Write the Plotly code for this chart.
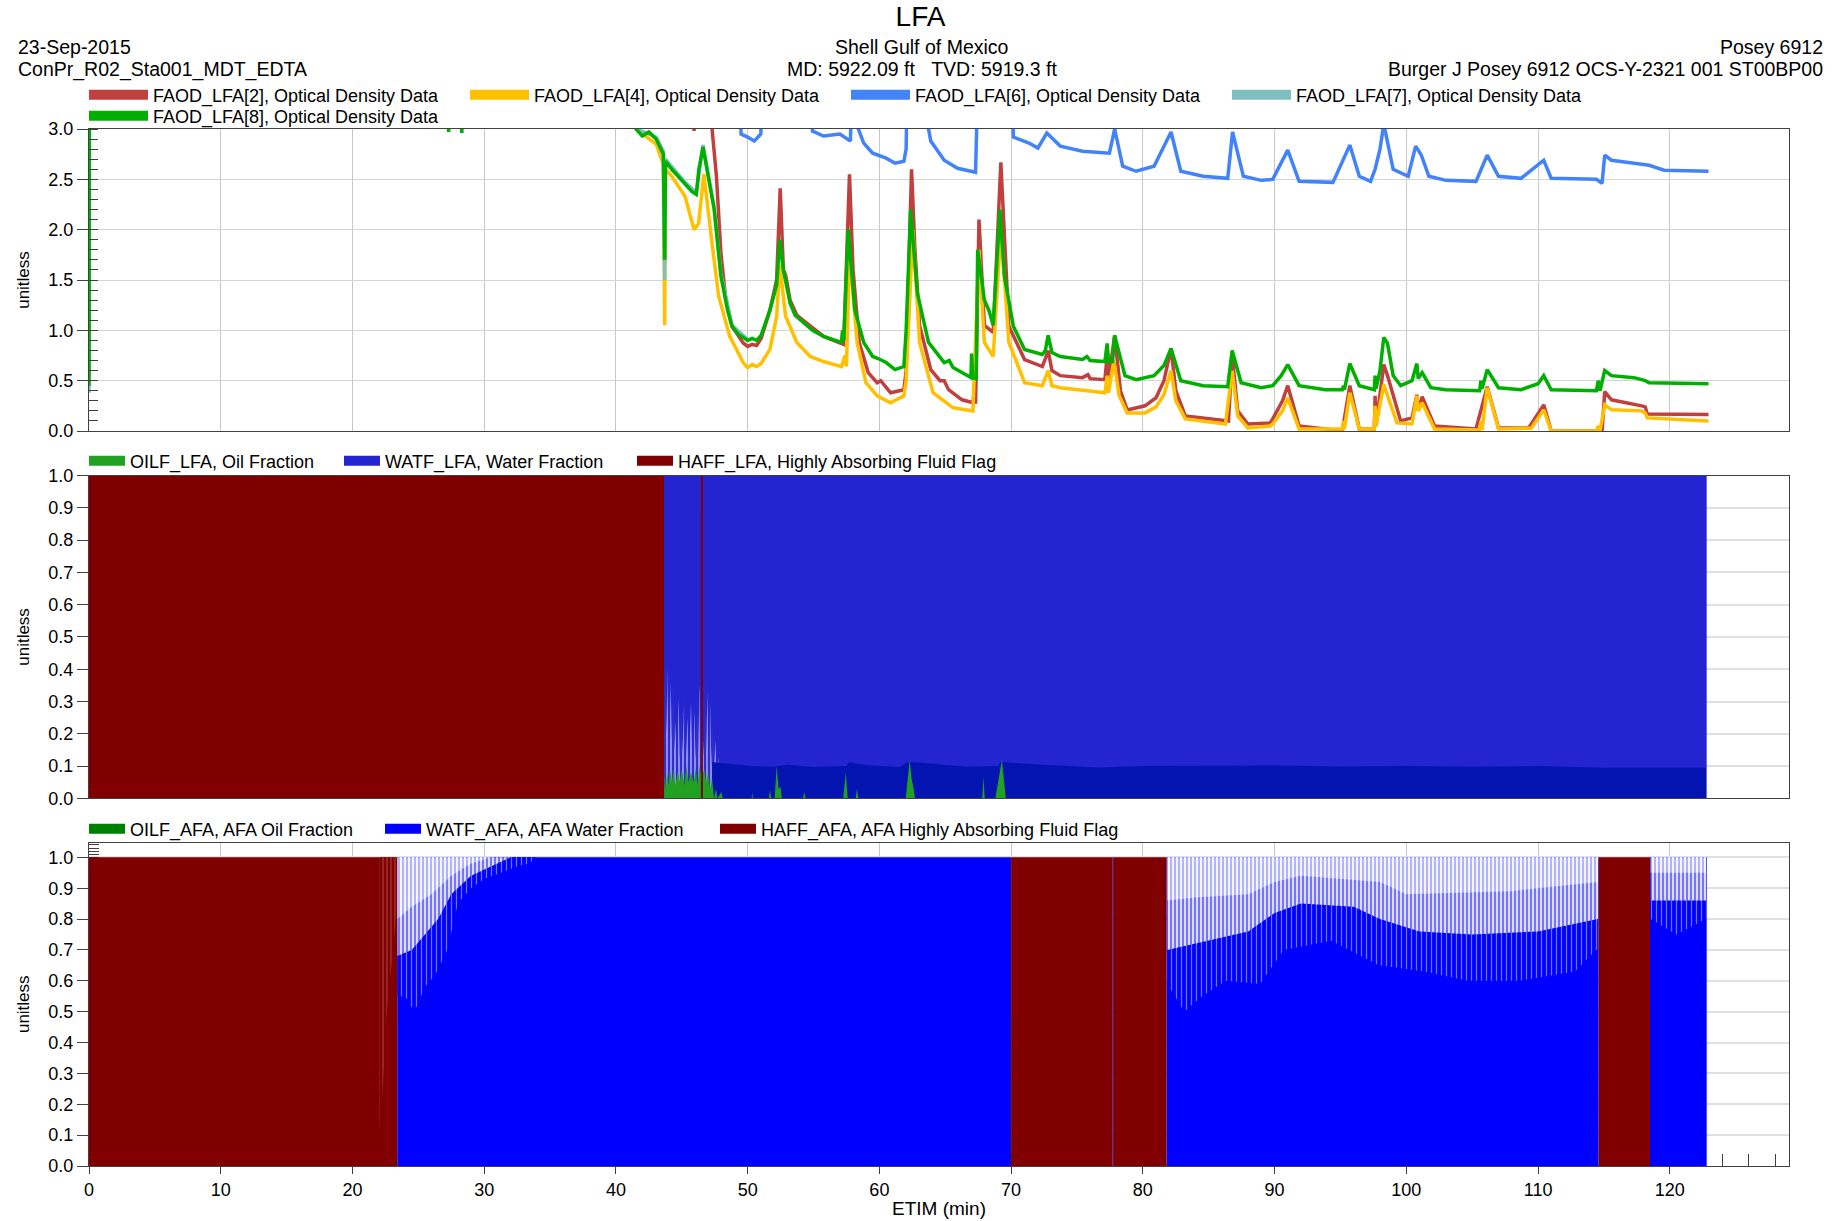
import plotly.graph_objects as go

# ---------------------------------------------------------------- data
# ETIM (min) vs optical density. 3.4 = off scale (> 3.0)
faod8 = [(0.0, 0.45), (0.03, 3.4), (27.2, 3.4), (27.3, 2.97), (27.4, 3.4), (28.2, 3.4), (28.3, 2.96),
         (28.4, 3.4), (41.3, 3.4), (41.53, 3.0), (42.0, 2.93), (42.5, 2.97), (43.05, 2.9), (43.6, 2.75),
         (43.7, 1.7), (43.76, 2.68), (44.24, 2.6), (44.58, 2.55), (45.25, 2.45), (45.76, 2.38), (46.1, 2.35),
         (46.3, 2.6), (46.61, 2.82), (46.9, 2.6), (47.46, 2.2), (47.97, 1.54), (48.47, 1.2), (48.81, 1.04),
         (49.3, 0.96), (49.66, 0.93), (50.0, 0.9), (50.34, 0.92), (50.68, 0.9), (51.02, 0.95), (51.69, 1.2),
         (52.2, 1.45), (52.44, 1.9), (52.71, 1.6), (53.22, 1.27), (53.6, 1.15), (54.07, 1.1), (54.92, 1.0),
         (55.76, 0.94), (57.12, 0.88), (57.2, 1.0), (57.3, 0.9), (57.63, 2.0), (58.14, 1.2), (58.81, 0.88),
         (59.49, 0.74), (59.9, 0.72), (60.51, 0.68), (61.19, 0.61), (61.86, 0.64), (62.03, 1.0), (62.37, 2.2),
         (62.88, 1.37), (63.73, 0.88), (64.92, 0.68), (65.3, 0.7), (65.59, 0.63), (66.61, 0.55), (66.95, 0.53),
         (67.0, 0.77), (67.08, 0.53), (67.35, 0.52), (67.46, 1.8), (67.97, 1.3), (68.31, 1.2), (68.64, 1.05),
         (69.15, 2.2), (69.49, 1.54), (70.17, 1.04), (71.02, 0.81), (72.37, 0.76), (72.6, 0.8), (72.81, 0.95),
         (73.1, 0.78), (73.73, 0.74), (75.42, 0.71), (75.76, 0.74), (76.0, 0.7), (77.12, 0.69), (77.29, 0.87),
         (77.4, 0.69), (77.7, 0.69), (77.86, 0.95), (78.64, 0.55), (79.49, 0.51), (80.85, 0.55), (81.6, 0.65),
         (82.14, 0.82), (82.88, 0.5), (84.58, 0.45), (86.44, 0.44), (86.78, 0.8), (87.46, 0.48), (88.98, 0.43),
         (89.86, 0.45), (90.5, 0.55), (91.0, 0.66), (91.86, 0.45), (93.86, 0.41), (95.14, 0.41), (95.23, 0.45),
         (95.3, 0.41), (95.71, 0.67), (96.43, 0.45), (97.57, 0.41), (97.63, 0.55), (97.7, 0.42), (98.0, 0.6),
         (98.29, 0.93), (98.57, 0.87), (99.0, 0.55), (99.57, 0.45), (100.43, 0.5), (100.8, 0.67), (100.9, 0.52),
         (101.2, 0.58), (101.86, 0.43), (103.0, 0.41), (105.57, 0.4), (105.66, 0.5), (105.75, 0.42),
         (106.14, 0.61), (107.0, 0.43), (108.71, 0.41), (110.0, 0.47), (110.43, 0.55), (111.0, 0.41),
         (114.43, 0.4), (114.57, 0.5), (114.7, 0.4), (115.06, 0.6), (115.57, 0.55), (117.29, 0.53),
         (118.14, 0.5), (118.43, 0.48), (122.94, 0.47)]

faod7 = [(0.0, 0.38), (0.03, 3.4), (41.3, 3.4), (41.6, 3.0), (43.05, 2.92), (43.6, 2.78), (43.7, 1.5),
         (43.76, 2.7), (45.25, 2.47), (46.1, 2.37), (46.61, 2.84), (47.46, 2.22), (47.97, 1.56),
         (48.81, 1.05), (50.0, 0.91)]

faod2 = [(0.0, 3.4), (45.8, 3.4), (45.93, 2.98), (46.0, 3.4), (47.12, 3.4), (47.3, 3.0), (47.63, 2.53),
         (47.97, 1.77), (48.31, 1.34), (48.81, 1.04), (49.66, 0.875), (50.0, 0.84), (50.34, 0.86),
         (50.68, 0.85), (51.02, 0.92), (51.69, 1.2), (52.2, 1.5), (52.47, 2.41), (52.71, 1.6), (52.88, 1.55),
         (53.22, 1.3), (53.73, 1.15), (54.41, 1.08), (55.76, 0.94), (57.29, 0.86), (57.73, 2.55), (58.0, 1.6),
         (58.47, 0.88), (59.15, 0.58), (59.83, 0.48), (60.1, 0.5), (60.85, 0.38), (61.86, 0.41), (62.03, 0.6),
         (62.44, 2.6), (62.7, 1.8), (63.05, 1.05), (63.9, 0.61), (64.6, 0.5), (64.92, 0.5), (65.25, 0.41),
         (66.27, 0.31), (67.12, 0.28), (67.2, 0.45), (67.3, 0.27), (67.56, 2.1), (67.97, 1.05), (68.64, 0.98),
         (69.22, 2.67), (69.83, 1.04), (71.02, 0.71), (72.37, 0.64), (72.6, 0.72), (72.81, 0.8), (73.1, 0.6),
         (73.73, 0.55), (75.42, 0.53), (75.83, 0.56), (76.0, 0.52), (77.12, 0.51), (77.29, 0.75), (77.4, 0.51),
         (77.86, 0.95), (78.3, 0.4), (78.81, 0.21), (80.17, 0.25), (81.0, 0.33), (81.6, 0.5), (82.14, 0.82),
         (82.5, 0.4), (83.22, 0.15), (86.27, 0.1), (86.5, 0.1), (86.78, 0.75), (87.2, 0.2), (87.97, 0.07),
         (89.66, 0.08), (89.86, 0.12), (90.6, 0.3), (91.0, 0.45), (91.86, 0.05), (95.14, 0.0), (95.71, 0.45),
         (96.43, 0.02), (97.57, 0.02), (97.63, 0.35), (97.7, 0.05), (98.29, 0.66), (98.57, 0.55), (99.57, 0.1),
         (100.43, 0.13), (100.8, 0.36), (100.9, 0.2), (101.2, 0.34), (102.14, 0.05), (105.29, 0.02),
         (106.14, 0.44), (107.0, 0.03), (109.29, 0.03), (110.43, 0.26), (111.0, 0.0), (114.86, 0.0),
         (115.06, 0.39), (115.57, 0.31), (116.71, 0.28), (117.0, 0.28), (117.86, 0.25), (118.14, 0.24),
         (118.29, 0.17), (122.94, 0.165)]

faod4 = [(0.0, 3.4), (41.3, 3.4), (41.53, 3.0), (42.5, 2.9), (43.05, 2.85), (43.6, 2.65), (43.7, 1.05),
         (43.76, 2.6), (44.24, 2.53), (45.25, 2.33), (45.76, 2.1), (45.93, 2.0), (46.27, 2.06), (46.68, 2.55),
         (47.29, 1.87), (47.8, 1.34), (48.64, 0.94), (49.66, 0.68), (50.0, 0.63), (50.34, 0.66), (50.68, 0.64),
         (51.02, 0.67), (51.69, 0.81), (52.2, 1.14), (52.44, 1.65), (52.88, 1.14), (53.73, 0.88), (54.75, 0.74),
         (55.76, 0.69), (57.12, 0.64), (57.39, 0.75), (57.5, 0.64), (57.73, 1.77), (58.31, 0.88), (58.98, 0.48),
         (59.83, 0.35), (60.85, 0.28), (61.86, 0.35), (62.03, 0.5), (62.54, 2.0), (63.05, 0.88), (64.07, 0.38),
         (65.59, 0.23), (66.95, 0.2), (67.1, 0.2), (67.56, 1.8), (67.97, 0.88), (68.64, 0.74), (69.22, 2.0),
         (69.83, 0.88), (71.02, 0.48), (72.37, 0.45), (72.81, 0.6), (73.1, 0.45), (73.73, 0.43), (75.76, 0.4),
         (77.12, 0.38), (77.3, 0.55), (77.4, 0.38), (77.8, 0.7), (78.2, 0.35), (78.81, 0.18), (80.17, 0.18),
         (81.0, 0.24), (81.6, 0.36), (82.14, 0.6), (82.5, 0.3), (83.22, 0.12), (86.27, 0.07), (86.78, 0.6),
         (87.2, 0.15), (87.97, 0.03), (89.66, 0.05), (89.86, 0.07), (90.6, 0.2), (91.0, 0.33), (91.86, 0.02),
         (95.14, 0.02), (95.23, 0.1), (95.3, 0.02), (95.71, 0.38), (96.43, 0.02), (97.57, 0.02), (97.63, 0.25),
         (97.7, 0.05), (98.29, 0.46), (99.29, 0.08), (100.43, 0.07), (100.8, 0.35), (100.9, 0.2), (101.2, 0.28),
         (102.14, 0.02), (105.57, 0.01), (105.66, 0.1), (105.75, 0.01), (106.14, 0.43), (107.0, 0.02),
         (109.5, 0.03), (110.43, 0.21), (111.0, 0.0), (114.43, 0.0), (114.57, 0.05), (114.7, 0.0),
         (115.06, 0.26), (115.57, 0.21), (117.86, 0.2), (118.14, 0.18), (118.29, 0.13), (122.94, 0.1)]

faod6 = [(0.0, 3.4), (49.4, 3.4), (49.5, 2.95), (50.0, 2.92), (50.5, 2.88), (51.0, 2.95), (51.1, 3.4),
         (54.8, 3.4), (54.92, 2.98), (55.76, 2.93), (57.0, 2.95), (57.8, 2.88), (57.9, 3.4), (58.3, 3.4),
         (58.4, 3.0), (58.81, 2.86), (59.49, 2.76), (60.51, 2.71), (61.19, 2.66), (61.86, 2.68), (62.03, 2.8),
         (62.1, 3.4), (63.6, 3.4), (63.73, 3.0), (63.9, 2.88), (64.92, 2.69), (65.93, 2.61), (66.95, 2.58),
         (67.3, 2.57), (67.46, 3.4), (70.1, 3.4), (70.17, 2.92), (71.36, 2.86), (72.03, 2.81), (72.71, 2.96),
         (73.73, 2.83), (75.42, 2.78), (77.46, 2.76), (77.86, 3.0), (78.47, 2.63), (79.49, 2.58), (80.85, 2.63),
         (82.14, 2.97), (82.88, 2.58), (84.58, 2.53), (86.44, 2.51), (86.81, 2.97), (87.63, 2.53), (88.98, 2.49),
         (89.86, 2.5), (91.0, 2.79), (91.86, 2.48), (94.43, 2.47), (95.71, 2.84), (96.43, 2.53), (97.29, 2.48),
         (97.63, 2.6), (98.0, 2.8), (98.29, 3.05), (99.0, 2.6), (100.14, 2.53), (100.71, 2.83), (101.14, 2.74),
         (101.71, 2.53), (103.0, 2.49), (105.29, 2.48), (106.14, 2.74), (107.0, 2.53), (108.71, 2.51),
         (110.43, 2.69), (111.0, 2.51), (114.43, 2.5), (114.86, 2.46), (115.06, 2.74), (115.57, 2.69),
         (117.29, 2.66), (118.43, 2.64), (119.57, 2.59), (122.94, 2.58)]

# LFA fractions
lfa_haff_x = [0.0, 43.65, 46.45, 46.6, 122.8]
lfa_haff_y = [1, 0, 1, 0, 0]
lfa_watf_x = [43.65, 122.8]
lfa_watf_y = [1.0, 1.0]
lfa_oilf = [(43.65, 0.0), (43.7, 0.07), (43.8, 0.03), (43.9, 0.08), (44.0, 0.04), (44.1, 0.09), (44.25, 0.05),
            (44.4, 0.09), (44.5, 0.04), (44.7, 0.08), (44.85, 0.05), (45.0, 0.09), (45.2, 0.04), (45.35, 0.1),
            (45.5, 0.05), (45.7, 0.08), (45.9, 0.05), (46.05, 0.09), (46.2, 0.04), (46.35, 0.1), (46.5, 0.06),
            (46.7, 0.09), (46.85, 0.05), (47.0, 0.08), (47.15, 0.03), (47.3, 0.06), (47.45, 0.0), (47.6, 0.03),
            (47.7, 0.0), (48.0, 0.02), (48.1, 0.0), (50.3, 0.0), (50.35, 0.02), (50.4, 0.0), (51.6, 0.0),
            (51.7, 0.025), (51.8, 0.0), (52.05, 0.0), (52.2, 0.1), (52.35, 0.03), (52.5, 0.035), (52.6, 0.0),
            (54.2, 0.0), (54.3, 0.02), (54.4, 0.0), (57.25, 0.0), (57.45, 0.08), (57.6, 0.0), (58.2, 0.0),
            (58.3, 0.03), (58.4, 0.0), (62.0, 0.0), (62.3, 0.12), (62.45, 0.06), (62.6, 0.03), (62.7, 0.0),
            (67.8, 0.0), (67.9, 0.067), (68.0, 0.0), (68.8, 0.0), (69.3, 0.12), (69.5, 0.05), (69.6, 0.0),
            (122.8, 0.0)]
# low-level water band (darker blue)
lfa_band = [(47.3, 0.113), (48.5, 0.108), (50.2, 0.1), (52.0, 0.098), (53.0, 0.104), (55.0, 0.097),
            (57.5, 0.1), (57.7, 0.112), (59.0, 0.103), (61.5, 0.097), (62.2, 0.113), (63.5, 0.11),
            (66.6, 0.098), (69.0, 0.1), (69.2, 0.113), (72.0, 0.105), (76.7, 0.096), (80.0, 0.1),
            (85.0, 0.1), (90.0, 0.102), (95.0, 0.099), (100.0, 0.1), (105.0, 0.098), (110.0, 0.1),
            (115.0, 0.095), (120.0, 0.096), (122.75, 0.095)]
# unflagged (white) streaks in the LFA fractions
lfa_gap = [(43.65, 0.1), (43.75, 0.45), (43.85, 0.2), (43.95, 0.41), (44.05, 0.15), (44.15, 0.36),
           (44.25, 0.18), (44.35, 0.37), (44.45, 0.15), (44.55, 0.24), (44.65, 0.15), (44.75, 0.31),
           (44.85, 0.12), (44.95, 0.28), (45.05, 0.14), (45.2, 0.33), (45.3, 0.12), (45.45, 0.25),
           (45.55, 0.12), (45.7, 0.3), (45.8, 0.13), (45.95, 0.27), (46.05, 0.12), (46.2, 0.33), (46.3, 0.14),
           (46.35, 0.35), (46.7, 0.12), (46.75, 0.39), (46.85, 0.15), (46.95, 0.33), (47.05, 0.12),
           (47.15, 0.3), (47.25, 0.1), (47.35, 0.24), (47.45, 0.1), (47.55, 0.18), (47.65, 0.09),
           (47.75, 0.13), (47.9, 0.05)]

# AFA fractions
afa_haff_x = [0.0, 23.4, 70.0, 77.68, 77.74, 81.8, 114.6, 118.5, 122.8]
afa_haff_y = [1, 0, 1, 0, 1, 0, 1, 0, 0]
afa_watf_x = [0.0, 23.4, 70.0, 77.68, 77.74, 81.8, 114.6, 118.5, 122.8]
afa_watf_y = [0, 1, 0, 1, 0, 1, 0, 1, 0]
afa_oilf_x = [0.0, 122.8]
afa_oilf_y = [0.0, 0.0]
# water-fraction dips: deepest streaks, mid-depth streaks and dense streak zone, per segment
afa_dip_deep = [
    [(23.4, 0.55), (24.0, 0.55), (24.7, 0.5), (25.5, 0.58), (26.3, 0.62), (27.2, 0.7), (28.0, 0.85),
     (29.0, 0.9), (30.0, 0.93), (31.2, 0.95), (32.5, 0.97), (33.4, 0.98), (34.0, 1.0)],
    [(81.85, 0.6), (82.0, 0.58), (83.15, 0.5), (84.5, 0.55), (86.3, 0.6), (88.9, 0.59), (90.7, 0.7),
     (94.3, 0.73), (97.9, 0.65), (101.4, 0.63), (104.6, 0.6), (108.6, 0.6), (112.8, 0.63), (114.4, 0.7),
     (114.55, 0.7)],
    [(118.55, 0.8), (120.5, 0.75), (122.75, 0.8)],
]
afa_dip_mid = [
    [(23.4, 0.68), (24.5, 0.7), (25.5, 0.75), (26.5, 0.8), (27.5, 0.88), (29.0, 0.94), (31.0, 0.98),
     (32.0, 1.0)],
    [(81.85, 0.7), (84.0, 0.72), (86.0, 0.74), (88.0, 0.76), (90.0, 0.82), (92.0, 0.85), (96.0, 0.84),
     (98.0, 0.8), (101.0, 0.76), (105.0, 0.75), (110.0, 0.76), (114.55, 0.8)],
    [(118.55, 0.86), (122.75, 0.86)],
]
afa_dip_dense = [
    [(23.4, 0.8), (24.5, 0.84), (26.0, 0.88), (27.5, 0.94), (29.0, 0.98), (30.5, 1.0)],
    [(81.85, 0.86), (84.0, 0.87), (88.0, 0.88), (90.0, 0.92), (92.0, 0.94), (98.0, 0.92), (100.0, 0.88),
     (108.0, 0.89), (110.0, 0.9), (114.55, 0.92)],
    [(118.55, 0.95), (122.75, 0.95)],
]
afa_haff_flicker = [(22.05, 0.12), (22.3, 0.25), (22.6, 0.5), (22.9, 0.62), (23.2, 0.75), (23.38, 0.87)]

# ---------------------------------------------------------------- figure
FONT = "Liberation Sans, Arial, sans-serif"
fig = go.Figure()


def xy(pairs):
    return [p[0] for p in pairs], [p[1] for p in pairs]


def band_to_top(segments, top=1.0):
    xs, ys = [], []
    for seg in segments:
        sx, sy = xy(seg)
        xs += sx + sx[::-1] + [None]
        ys += sy + [top] * len(sx) + [None]
    return xs, ys


# --- panel 1 lines
od_traces = [
    ("FAOD_LFA[2], Optical Density Data", faod2, "#C0403F"),
    ("FAOD_LFA[4], Optical Density Data", faod4, "#FFC000"),
    ("FAOD_LFA[6], Optical Density Data", faod6, "#4282FA"),
    ("FAOD_LFA[7], Optical Density Data", faod7, "#7FBFC0"),
    ("FAOD_LFA[8], Optical Density Data", faod8, "#00B000"),
]
for name, pairs, col in od_traces:
    x, y = xy(pairs)
    fig.add_trace(go.Scatter(x=x, y=y, mode="lines", line=dict(color=col, width=3.5),
                             name=name, legendgroup=name, showlegend=False,
                             xaxis="x", yaxis="y"))

# --- panel 2 fills
fig.add_trace(go.Scatter(x=lfa_watf_x, y=lfa_watf_y, mode="lines", line=dict(width=0, shape="hv"),
                         fill="tozeroy", fillcolor="#2424D0", legendgroup="WATF_LFA",
                         showlegend=False, xaxis="x2", yaxis="y2"))
gx, gy = xy(lfa_gap)
fig.add_trace(go.Scatter(x=gx, y=gy, mode="lines", line=dict(width=0), fill="tozeroy",
                         fillcolor="rgba(0,0,0,0)",
                         fillpattern=dict(shape="|", fgcolor="#F4F4FF", bgcolor="#2424D0",
                                          size=4, solidity=0.55),
                         legendgroup="WATF_LFA", showlegend=False, xaxis="x2", yaxis="y2"))
bx, by = xy(lfa_band)
fig.add_trace(go.Scatter(x=bx, y=by, mode="lines", line=dict(width=0), fill="tozeroy",
                         fillcolor="#0414B0", legendgroup="WATF_LFA", showlegend=False,
                         xaxis="x2", yaxis="y2"))
ox, oy = xy(lfa_oilf)
fig.add_trace(go.Scatter(x=ox, y=oy, mode="lines", line=dict(width=0), fill="tozeroy",
                         fillcolor="#22A022", legendgroup="OILF_LFA", showlegend=False,
                         xaxis="x2", yaxis="y2"))
fig.add_trace(go.Scatter(x=lfa_haff_x, y=lfa_haff_y, mode="lines", line=dict(width=0, shape="hv"),
                         fill="tozeroy", fillcolor="#800000", legendgroup="HAFF_LFA",
                         showlegend=False, xaxis="x2", yaxis="y2"))

# --- panel 3 fills
fig.add_trace(go.Scatter(x=afa_watf_x, y=afa_watf_y, mode="lines", line=dict(width=0, shape="hv"),
                         fill="tozeroy", fillcolor="#0000FF", legendgroup="WATF_AFA",
                         showlegend=False, xaxis="x3", yaxis="y3"))
for segs, fg, bg, size, sol in [(afa_dip_deep, "#E4E4FF", "#0000FF", 5, 0.25),
                                (afa_dip_mid, "#0000FF", "#E8E8FF", 4, 0.55),
                                (afa_dip_dense, "#1010FF", "#F6F6FF", 4, 0.3)]:
    dx, dy = band_to_top(segs)
    fig.add_trace(go.Scatter(x=dx, y=dy, mode="lines", line=dict(width=0), fill="toself",
                             fillcolor="rgba(0,0,0,0)",
                             fillpattern=dict(shape="|", fgcolor=fg, bgcolor=bg, size=size, solidity=sol),
                             legendgroup="WATF_AFA", showlegend=False, xaxis="x3", yaxis="y3"))
fig.add_trace(go.Scatter(x=afa_oilf_x, y=afa_oilf_y, mode="lines", line=dict(width=0),
                         fill="tozeroy", fillcolor="#008000", legendgroup="OILF_AFA",
                         showlegend=False, xaxis="x3", yaxis="y3"))
fig.add_trace(go.Scatter(x=afa_haff_x, y=afa_haff_y, mode="lines", line=dict(width=0, shape="hv"),
                         fill="tozeroy", fillcolor="#800000", legendgroup="HAFF_AFA",
                         showlegend=False, xaxis="x3", yaxis="y3"))
fx, fy = band_to_top([afa_haff_flicker])
fig.add_trace(go.Scatter(x=fx, y=fy, mode="lines", line=dict(width=0), fill="toself",
                         fillcolor="rgba(0,0,0,0)",
                         fillpattern=dict(shape="|", fgcolor="#C88080", bgcolor="#800000",
                                          size=4, solidity=0.3),
                         legendgroup="HAFF_AFA", showlegend=False, xaxis="x3", yaxis="y3"))

# --- legend entries (rectangular swatches)
od_leg = [(n, c, n, None) for n, _, c in od_traces]
legend_items = [
    ("legend", "x", "y", od_leg[:4]),
    ("legend4", "x", "y", od_leg[4:]),
    ("legend2", "x2", "y2", [("OILF_LFA, Oil Fraction", "#22A022", "OILF_LFA", 209),
                             ("WATF_LFA, Water Fraction", "#2424D0", "WATF_LFA", 247),
                             ("HAFF_LFA, Highly Absorbing Fluid Flag", "#800000", "HAFF_LFA", 330)]),
    ("legend3", "x3", "y3", [("OILF_AFA, AFA Oil Fraction", "#008000", "OILF_AFA", 250),
                             ("WATF_AFA, AFA Water Fraction", "#0000FF", "WATF_AFA", 289),
                             ("HAFF_AFA, AFA Highly Absorbing Fluid Flag", "#800000", "HAFF_AFA", 380)]),
]
for leg, xa, ya, items in legend_items:
    for name, col, grp, lw in items:
        kw = dict(legendwidth=lw) if lw else {}
        fig.add_trace(go.Scatter(x=[None], y=[None], mode="lines", line=dict(color=col, width=12),
                                 name=name, legendgroup=grp, legend=leg, xaxis=xa, yaxis=ya, **kw))

# ---------------------------------------------------------------- layout
W, H = 1841, 1221
ML, MR, MT, MB = 89, 52, 129, 55
PH = H - MT - MB


def py(pix):
    return (H - MB - pix) / PH


def px(pix):
    return (pix - ML) / (W - ML - MR)


tickfont = dict(family=FONT, size=18, color="#000000")
common_x = dict(range=[0, 129.05], dtick=10, tick0=0, showgrid=True, gridcolor="#C8C8C8",
                gridwidth=1, showline=True, linecolor="#404040", linewidth=1, mirror=True,
                zeroline=False, tickfont=tickfont, automargin=False)
ytitle = dict(text="unitless", font=dict(family=FONT, size=17, color="#000000"), standoff=14)
legfont = dict(family=FONT, size=18, color="#000000")
legcommon = dict(orientation="h", x=0, xanchor="left", yanchor="middle", indentation=-5,
                 bgcolor="rgba(0,0,0,0)", font=legfont, itemclick=False, itemdoubleclick=False)

fig.update_layout(
    width=W, height=H,
    margin=dict(l=ML, r=MR, t=MT, b=MB, pad=0, autoexpand=False),
    paper_bgcolor="white", plot_bgcolor="white",
    font=dict(family=FONT, size=18, color="#000000"),
    hovermode=False,
    title=dict(text="LFA", x=0.5, xanchor="center", y=1 - 16.5 / H, yanchor="middle",
               font=dict(family=FONT, size=28, color="#000000")),
    xaxis=dict(**common_x, anchor="y", matches="x3", showticklabels=False, ticks=""),
    xaxis2=dict(**common_x, anchor="y2", matches="x3", showticklabels=False, ticks=""),
    xaxis3=dict(**common_x, anchor="y3", ticks="outside", ticklen=7, tickcolor="#404040",
                layer="below traces",
                minor=dict(ticks="inside", dtick=2, ticklen=12, tickcolor="#404040", showgrid=False),
                title=dict(text="ETIM (min)", font=dict(family=FONT, size=19, color="#000000"),
                           standoff=3)),
    yaxis=dict(domain=[py(431), 1.0], range=[0, 3], dtick=0.5, tick0=0, tickformat=".1f",
               ticks="outside", ticklen=11, tickcolor="#404040", showgrid=True, gridcolor="#D4D4D4",
               showline=True, linecolor="#404040", mirror=True, zeroline=False, tickfont=tickfont,
               automargin=False,
               minor=dict(ticks="inside", dtick=0.1, ticklen=9, tickcolor="#404040", showgrid=False),
               title=ytitle),
    yaxis2=dict(domain=[py(798.4), py(475.5)], range=[0, 1], dtick=0.1, tick0=0, tickformat=".1f",
                ticks="outside", ticklen=11, tickcolor="#404040", showgrid=True, gridcolor="#E0E0E0",
                gridwidth=2, showline=True, linecolor="#404040", mirror=True, zeroline=False,
                tickfont=tickfont, automargin=False, title=ytitle),
    yaxis3=dict(domain=[0, py(842.5)], range=[0, 1.048], dtick=0.1, tick0=0, tickformat=".1f",
                ticks="outside", ticklen=11, tickcolor="#404040", showgrid=True, gridcolor="#E0E0E0",
                gridwidth=2, showline=True, linecolor="#404040", mirror=True, zeroline=False,
                tickfont=tickfont, layer="below traces", automargin=False,
                minor=dict(ticks="inside", dtick=0.01, ticklen=10, tickcolor="#404040", showgrid=False),
                title=ytitle),
    legend=dict(**legcommon, y=py(95), entrywidth=312, itemwidth=59),
    legend4=dict(**legcommon, y=py(116), entrywidth=312, itemwidth=59),
    legend2=dict(**legcommon, y=py(461), itemwidth=36),
    legend3=dict(**legcommon, y=py(829), itemwidth=36),
)

hdr = dict(family=FONT, size=19.5, color="#000000")
annos = [
    ("23-Sep-2015", px(16.4), py(47), "left"),
    ("ConPr_R02_Sta001_MDT_EDTA", px(16.4), py(69.3), "left"),
    ("Shell Gulf of Mexico", px(921.6), py(47), "center"),
    ("MD: 5922.09 ft\u00a0\u00a0\u00a0TVD: 5919.3 ft", px(921.6), py(69.3), "center"),
    ("Posey 6912", px(1824.6), py(47), "right"),
    ("Burger J Posey 6912 OCS-Y-2321 001 ST00BP00", px(1824.6), py(69.3), "right"),
]
for text, ax, ay, anc in annos:
    fig.add_annotation(text=text, x=ax, y=ay, xref="paper", yref="paper", xanchor=anc,
                       yanchor="middle", showarrow=False, font=hdr)

fig.write_html("out.html", config={"displayModeBar": False})
